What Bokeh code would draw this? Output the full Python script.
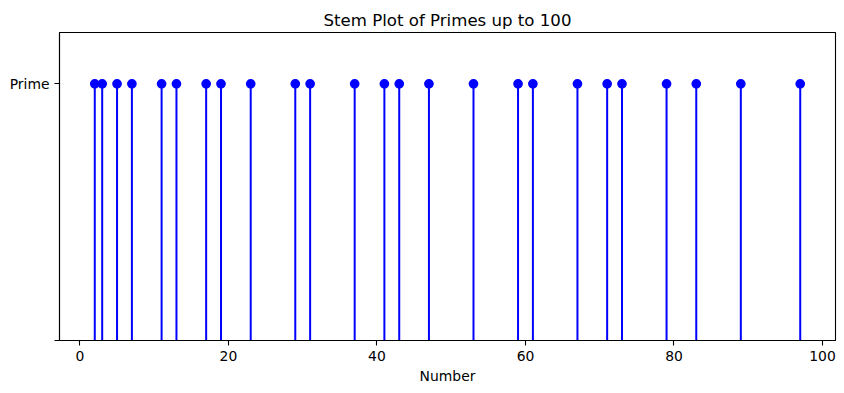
from bokeh.plotting import figure
from bokeh.models import Range1d, FixedTicker, ColumnDataSource
from bokeh.embed import file_html
from bokeh.resources import INLINE

# Data
primes = [2, 3, 5, 7, 11, 13, 17, 19, 23, 29, 31, 37, 41, 43, 47,
          53, 59, 61, 67, 71, 73, 79, 83, 89, 97]
is_prime = [1, 1, 1, 1, 1, 1, 1, 1, 1, 1, 1, 1, 1, 1, 1,
            1, 1, 1, 1, 1, 1, 1, 1, 1, 1]
baseline = [0, 0, 0, 0, 0, 0, 0, 0, 0, 0, 0, 0, 0, 0, 0,
            0, 0, 0, 0, 0, 0, 0, 0, 0, 0]
x_ticks = [0, 20, 40, 60, 80, 100]
y_ticks = [0, 1]
y_tick_labels = {0: "", 1: "Prime"}

FONT = "DejaVu Sans"

src = ColumnDataSource(dict(x=primes, y=is_prime, y0=baseline))

p = figure(width=844, height=393, output_backend="svg", toolbar_location=None,
           x_range=Range1d(-2.75, 101.75), y_range=Range1d(0, 1.2),
           title="Stem Plot of Primes up to 100",
           min_border_left=59, min_border_right=9, min_border_top=32, min_border_bottom=53)

p.title.align = "center"
p.title.text_font = FONT
p.title.text_font_size = "16.6px"
p.title.text_font_style = "normal"
p.title.text_color = "black"
p.title.standoff = 6

p.segment(x0="x", y0="y0", x1="x", y1="y", source=src, line_color="#0000ff", line_width=2)
p.scatter(x="x", y="y", source=src, size=8.3, fill_color="#0000ff",
          line_color="#0000ff", line_width=1.4)

p.xgrid.visible = False
p.ygrid.visible = False
p.outline_line_color = "black"
p.outline_line_width = 1.1
p.outline_line_alpha = 1

for ax in (p.xaxis, p.yaxis):
    ax.axis_line_color = "black"
    ax.axis_line_width = 1.1
    ax.major_tick_line_color = "black"
    ax.major_tick_line_width = 1.1
    ax.major_tick_out = 5
    ax.major_tick_in = 0
    ax.minor_tick_line_color = None
    ax.major_label_text_font = FONT
    ax.major_label_text_font_size = "13.9px"
    ax.major_label_text_color = "black"
    ax.major_label_standoff = 5
    ax.axis_label_text_font = FONT
    ax.axis_label_text_font_size = "13.9px"
    ax.axis_label_text_font_style = "normal"
    ax.axis_label_text_color = "black"

p.xaxis.ticker = FixedTicker(ticks=x_ticks)
p.yaxis.ticker = FixedTicker(ticks=y_ticks)
p.yaxis.major_label_overrides = y_tick_labels
p.xaxis.axis_label = "Number"
p.xaxis.axis_label_standoff = 4

open("out.html", "w").write(file_html(p, INLINE))
